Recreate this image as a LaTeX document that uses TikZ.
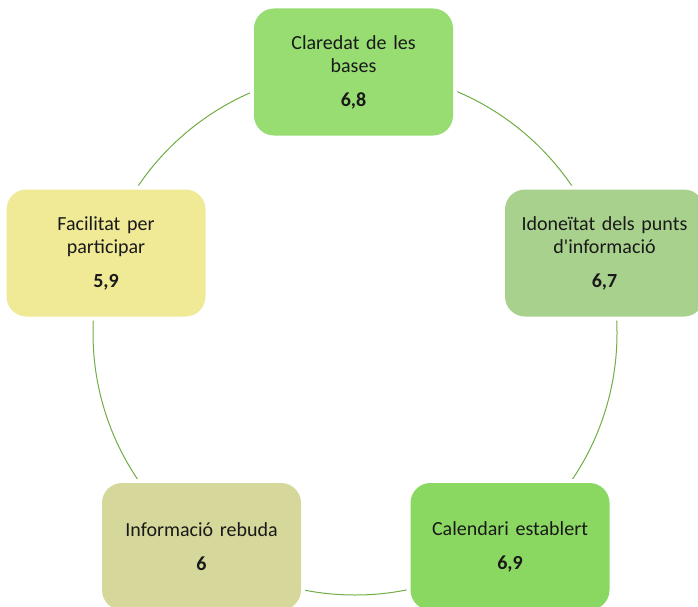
\documentclass[tikz,border=0pt]{standalone}
\usepackage{fontspec}
\setmainfont{Carlito}
\definecolor{ringgreen}{HTML}{70AD47}
\definecolor{cTop}{HTML}{97DD72}
\definecolor{cRight}{HTML}{A9D18E}
\definecolor{cLeft}{HTML}{F0EA96}
\definecolor{cBL}{HTML}{D6D79A}
\definecolor{cBR}{HTML}{8AD862}
\begin{document}
\begin{tikzpicture}[x=1pt,y=-1pt,
  box/.style={rounded corners=20pt, minimum width=199pt, minimum height=127pt,
    align=center, text width=190pt, inner sep=0pt,
    font=\fontsize{20}{23}\selectfont, text=black!90,
    preaction={draw=white, line width=8pt}},
  ring/.style={circle, draw=ringgreen, line width=1pt, minimum size=524pt, inner sep=0pt}]
\useasboundingbox (0,0) rectangle (698,607);
\node[ring] (ring) at (355,333) {};
\node[box, fill=cTop] (top) at (353.5,72) {Claredat de les\\bases\\[11pt]\textbf{6,8}};
\node[box, fill=cRight] (right) at (604.5,253) {Idoneïtat dels punts\\d\textquotesingle informació\\[11pt]\textbf{6,7}};
\node[box, fill=cBR] (bright) at (510,546.5) {Calendari establert\\[11pt]\textbf{6,9}};
\node[box, fill=cBL] (bleft) at (201.5,546.5) {Informació rebuda\\[11pt]\textbf{6}};
\node[box, fill=cLeft] (left) at (106,253) {Facilitat per\\participar\\[11pt]\textbf{5,9}};
\end{tikzpicture}
\end{document}
